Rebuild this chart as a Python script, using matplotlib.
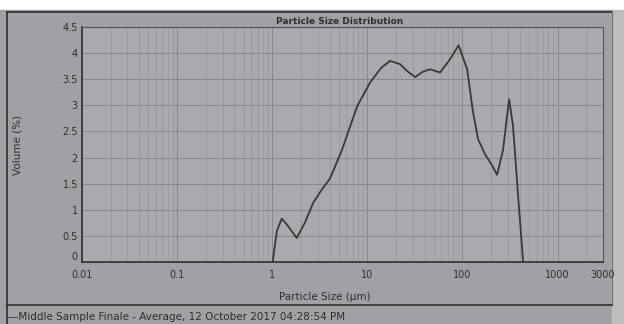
import numpy as np
import matplotlib
matplotlib.use('Agg')
import matplotlib.pyplot as plt
from matplotlib.ticker import FixedLocator, NullFormatter, LogLocator

# particle size (um) and volume (%)
size_um = [1.01, 1.12, 1.26, 1.45, 1.81, 2.2, 2.69, 3.3, 4.05, 5.42, 7.8, 10.7,
           14.0, 17.3, 22.0, 26.5, 31.8, 38.0, 45.6, 58.0, 72.0, 91.0, 112.0,
           129.0, 146.0, 173.0, 200.0, 231.0, 267.0, 309.0, 340.0, 385.0, 434.0]
volume_pct = [0.0, 0.6, 0.83, 0.7, 0.46, 0.75, 1.13, 1.38, 1.6, 2.15, 2.98, 3.44,
              3.72, 3.85, 3.79, 3.65, 3.54, 3.64, 3.69, 3.63, 3.85, 4.15, 3.69,
              2.87, 2.35, 2.06, 1.88, 1.67, 2.15, 3.12, 2.6, 1.25, 0.0]

x_ticks = [0.01, 0.1, 1, 10, 100, 1000, 3000]
x_labels = ['0.01', '0.1', '1', '10', '100', '1000', '3000']
y_ticks = [0, 0.5, 1, 1.5, 2, 2.5, 3, 3.5, 4, 4.5]
y_labels = ['0', '0.5', '1', '1.5', '2', '2.5', '3', '3.5', '4', '4.5']

ink = '#2e2e30'
W, H = 624, 324

fig = plt.figure(figsize=(W / 100, H / 100), dpi=100)
fig.patch.set_facecolor('#ffffff')

# photo background / paper
bg = fig.add_axes([0, 0, 1, 1])
bg.set_xlim(0, W)
bg.set_ylim(H, 0)
bg.axis('off')
bg.add_patch(plt.Rectangle((0, 10), 612, H - 10, color='#a0a1a4', zorder=0))
bg.add_patch(plt.Rectangle((612, 10), W - 612, H - 10, color='#bdbdbd', zorder=0))
bg.plot([7, 612], [12, 12], color=ink, lw=1.2)
bg.plot([7, 7], [12, H], color=ink, lw=1.2)
bg.plot([612, 612], [12, 305], color='#707070', lw=0.8)
bg.plot([7, 612], [305, 305], color=ink, lw=1.2)
bg.text(340, 21, 'Particle Size Distribution', fontsize=6.5, fontweight='bold',
        color=ink, ha='center', va='center')
bg.text(325, 297, 'Particle Size (\u00b5m)', fontsize=7.5, color=ink,
        ha='center', va='center')
bg.text(18, 145, 'Volume (%)', fontsize=7.5, color=ink, rotation=90,
        ha='center', va='center')
bg.text(8, 317, '\u2014Middle Sample Finale - Average, 12 October 2017 04:28:54 PM',
        fontsize=7.5, color=ink, ha='left', va='center')

ax = fig.add_axes([82 / W, (H - 262) / H, 521 / W, 235 / H])
ax.set_facecolor('#a9aaad')
ax.set_xscale('log')
ax.set_xlim(0.01, 3000)
ax.set_ylim(0, 4.5)

ax.plot(size_um, volume_pct, color='#38383a', lw=1.3)

ax.xaxis.set_major_locator(FixedLocator(x_ticks))
ax.set_xticklabels(x_labels)
ax.xaxis.set_minor_locator(LogLocator(base=10, subs=np.arange(2, 10)))
ax.xaxis.set_minor_formatter(NullFormatter())
ax.set_yticks(y_ticks)
ax.set_yticklabels(y_labels)

ax.grid(True, which='major', color='#86878a', lw=0.7)
ax.grid(True, which='minor', axis='x', color='#96979a', lw=0.5)
ax.tick_params(which='both', length=0, labelsize=7, colors=ink)
ax.tick_params(axis='x', pad=6)
ax.tick_params(axis='y', pad=3)
ax.get_yticklabels()[0].set_verticalalignment('bottom')

for side in ['top', 'right']:
    ax.spines[side].set_color('#555558')
    ax.spines[side].set_linewidth(0.8)
for side in ['left', 'bottom']:
    ax.spines[side].set_color(ink)
    ax.spines[side].set_linewidth(1.2)

fig.savefig('out.png', dpi=100)
